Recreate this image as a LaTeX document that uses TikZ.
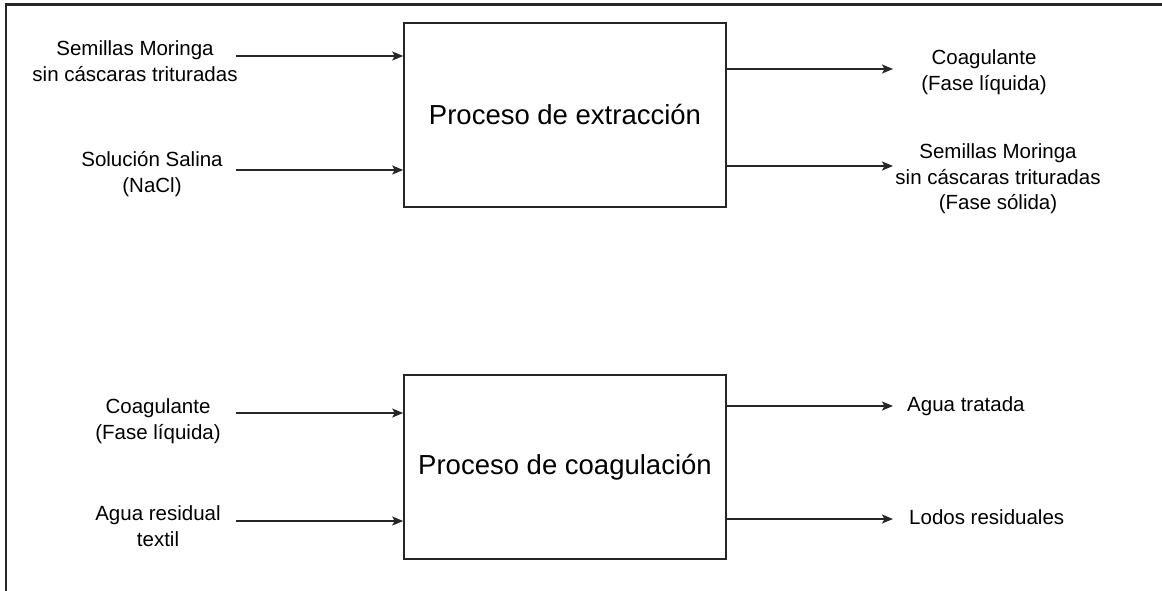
\documentclass[tikz,border=0pt]{standalone}
\usepackage{fontspec}
\setmainfont{Liberation Sans}
\usetikzlibrary{arrows.meta}
\tikzset{
  lbl/.style={inner sep=0pt, align=center, font=\fontsize{20.5}{25.5}\selectfont, text=black},
  procbox/.style={draw=black!85, line width=1.6pt, fill=white, inner sep=0pt, minimum width=322pt, minimum height=184pt, font=\fontsize{27.5}{32}\selectfont},
  flow/.style={draw=black!85, line width=1.6pt, -{Stealth[length=11pt,width=9pt,inset=2.5pt]}},
  frameline/.style={draw=black!85, line width=2.4pt}
}
\begin{document}
\begin{tikzpicture}[x=1pt,y=-1pt]
\useasboundingbox (0,0) rectangle (1162,590);
% partial frame
\coordinate (fb) at (6,591);
\coordinate (fc) at (6,4.5);
\coordinate (fr) at (1163,4.5);
\draw[frameline] (fb) -- (fc) -- (fr);

% boxes
\node[procbox] (ext) at (565,115) {Proceso de extracción};
\node[procbox] (coa) at (565,467) {Proceso de coagulación};

% top inputs
\node[lbl] (l1) at (135,61) {Semillas Moringa\\sin cáscaras trituradas};
\node[lbl] (l2) at (152,174) {Solución Salina\\(NaCl)};
\coordinate (i1) at (236,56);
\coordinate (i2) at (236,170);
\draw[flow] (i1) -- (i1 -| ext.west);
\draw[flow] (i2) -- (i2 -| ext.west);

% top outputs
\node[lbl] (r1) at (984,72) {Coagulante\\(Fase líquida)};
\node[lbl] (r2) at (998,179) {Semillas Moringa\\sin cáscaras trituradas\\(Fase sólida)};
\coordinate (o1) at (893,69);
\coordinate (o2) at (893,166);
\draw[flow] (o1 -| ext.east) -- (o1);
\draw[flow] (o2 -| ext.east) -- (o2);

% bottom inputs
\node[lbl] (l3) at (158,421) {Coagulante\\(Fase líquida)};
\node[lbl] (l4) at (158,526) {Agua residual\\textil};
\coordinate (i3) at (236,413);
\coordinate (i4) at (236,521);
\draw[flow] (i3) -- (i3 -| coa.west);
\draw[flow] (i4) -- (i4 -| coa.west);

% bottom outputs
\node[lbl, anchor=west] (r3) at (907,406) {Agua tratada};
\node[lbl, anchor=west] (r4) at (909,517) {Lodos residuales};
\coordinate (o3) at (893,406);
\coordinate (o4) at (893,519);
\draw[flow] (o3 -| coa.east) -- (o3);
\draw[flow] (o4 -| coa.east) -- (o4);
\end{tikzpicture}
\end{document}
